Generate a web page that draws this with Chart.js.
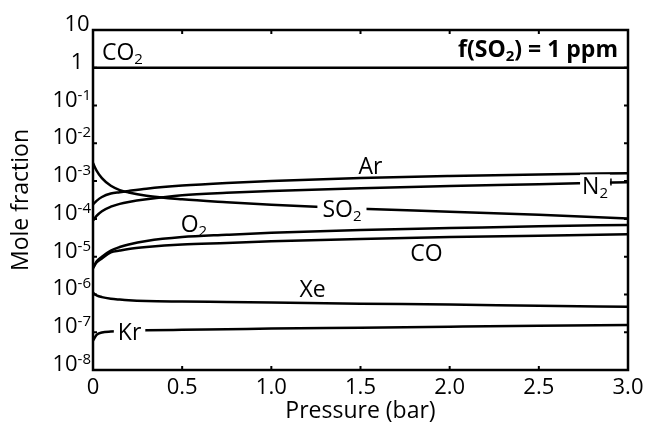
<!DOCTYPE html>
<html>
<head>
<meta charset="utf-8">
<script src="https://cdn.jsdelivr.net/npm/chart.js@4.4.1/dist/chart.umd.min.js"></script>
<style>
  html, body { margin: 0; padding: 0; background: #fff; }
  canvas { display: block; }
</style>
</head>
<body>
<canvas id="chart" width="651" height="432"></canvas>
<script>
// Pressure grid (bar)
const pressure = [0, 0.02, 0.05, 0.1, 0.15, 0.2, 0.3, 0.5, 0.75, 1.0, 1.5, 2.0, 2.5, 3.0];

// Mole fractions of each species along the pressure grid
const co2 = [0.998, 0.998, 0.998, 0.998, 0.998, 0.998, 0.998, 0.998, 0.998, 0.998, 0.998, 0.998, 0.998, 0.998];
const ar  = [2.4e-4, 3.0e-4, 3.8e-4, 4.7e-4, 5.1e-4, 5.5e-4, 6.3e-4, 7.6e-4, 8.9e-4, 1.0e-3, 1.2e-3, 1.36e-3, 1.5e-3, 1.62e-3];
const n2  = [9.0e-5, 1.2e-4, 1.6e-4, 2.1e-4, 2.5e-4, 2.8e-4, 3.3e-4, 4.2e-4, 4.9e-4, 5.5e-4, 6.5e-4, 7.4e-4, 8.3e-4, 9.4e-4];
const so2 = [3.0e-3, 1.9e-3, 1.2e-3, 7.5e-4, 5.8e-4, 5.0e-4, 4.1e-4, 3.3e-4, 2.75e-4, 2.35e-4, 1.85e-4, 1.55e-4, 1.28e-4, 1.03e-4];
const o2  = [5.0e-6, 7.5e-6, 1.0e-5, 1.45e-5, 1.8e-5, 2.1e-5, 2.6e-5, 3.3e-5, 3.8e-5, 4.3e-5, 5.1e-5, 5.7e-5, 6.4e-5, 6.9e-5];
const co  = [5.0e-6, 7.0e-6, 9.0e-6, 1.3e-5, 1.45e-5, 1.6e-5, 1.8e-5, 2.1e-5, 2.3e-5, 2.55e-5, 2.95e-5, 3.3e-5, 3.6e-5, 3.9e-5];
const xe  = [1.1e-6, 9.5e-7, 8.5e-7, 7.7e-7, 7.3e-7, 7.0e-7, 6.7e-7, 6.5e-7, 6.3e-7, 6.1e-7, 5.7e-7, 5.4e-7, 5.0e-7, 4.7e-7];
const kr  = [6.0e-8, 8.5e-8, 9.8e-8, 1.04e-7, 1.06e-7, 1.08e-7, 1.12e-7, 1.16e-7, 1.2e-7, 1.25e-7, 1.32e-7, 1.4e-7, 1.48e-7, 1.55e-7];

// Axis ticks
const xTicks = [0, 0.5, 1.0, 1.5, 2.0, 2.5, 3.0];
const yTickExponents = [1, 0, -1, -2, -3, -4, -5, -6, -7, -8];

const seriesList = [co2, ar, n2, so2, o2, co, xe, kr];

// In-plot annotations: text pieces (with subscripts), anchored in data units.
// "gap" marks labels that sit on their curve and interrupt it.
const annotations = [
  { parts: [{ t: 'CO' }, { t: '2', sub: true }], p: 0.05, v: 2.7, align: 'left' },
  { parts: [{ t: 'f(SO' }, { t: '2', sub: true }, { t: ') = 1 ppm' }], p: 2.944, v: 3.1, align: 'right', bold: true },
  { parts: [{ t: 'Ar' }], p: 1.556, v: 2.5e-3, align: 'center' },
  { parts: [{ t: 'N' }, { t: '2', sub: true }], p: 2.815, v: 7.6e-4, align: 'center', gap: 2, endBar: true },
  { parts: [{ t: 'SO' }, { t: '2', sub: true }], p: 1.396, v: 1.83e-4, align: 'center', gap: 5 },
  { parts: [{ t: 'O' }, { t: '2', sub: true }], p: 0.566, v: 7.5e-5, align: 'center' },
  { parts: [{ t: 'CO' }], p: 1.87, v: 1.29e-5, align: 'center' },
  { parts: [{ t: 'Xe' }], p: 1.231, v: 1.4e-6, align: 'center' },
  { parts: [{ t: 'Kr' }], p: 0.205, v: 1.05e-7, align: 'center', gap: 4 }
];

const FONT = "'Open Sans', 'DejaVu Sans', sans-serif";
const MAIN_SIZE = 23;
const SUB_SIZE = 15;

function richWidth(ctx, parts, bold) {
  let w = 0;
  for (const part of parts) {
    ctx.font = (bold ? 'bold ' : '') + (part.sub ? SUB_SIZE : MAIN_SIZE) + 'px ' + FONT;
    w += ctx.measureText(part.t).width;
  }
  return w;
}

function drawRich(ctx, parts, x, baseline, bold) {
  let cx = x;
  for (const part of parts) {
    ctx.font = (bold ? 'bold ' : '') + (part.sub ? SUB_SIZE : MAIN_SIZE) + 'px ' + FONT;
    ctx.fillText(part.t, cx, part.sub ? baseline + 4 : baseline);
    cx += ctx.measureText(part.t).width;
  }
}

const framePlugin = {
  id: 'frameAndNotes',
  afterDatasetsDraw(chart) {
    const ctx = chart.ctx;
    const { left, right, top, bottom } = chart.chartArea;
    const xs = chart.scales.x, ys = chart.scales.y;
    ctx.save();

    ctx.textBaseline = 'alphabetic';
    ctx.textAlign = 'left';
    for (const a of annotations) {
      const w = richWidth(ctx, a.parts, a.bold);
      const cx = xs.getPixelForValue(a.p);
      const cy = ys.getPixelForValue(a.v);
      const x0 = a.align === 'left' ? cx : a.align === 'right' ? cx - w : cx - w / 2;
      const capH = MAIN_SIZE * 0.714;
      const baseline = cy + capH / 2;
      if (a.gap) {
        // white backing so the label breaks its curve
        ctx.fillStyle = '#fff';
        ctx.fillRect(x0 - a.gap, cy - capH / 2 - 3, w + 2 * a.gap, capH + 9);
      }
      ctx.fillStyle = '#000';
      drawRich(ctx, a.parts, x0, baseline, a.bold);
      if (a.endBar) {
        ctx.strokeStyle = '#000';
        ctx.lineWidth = 1.5;
        const bx = x0 + w + a.gap + 1;
        ctx.beginPath();
        ctx.moveTo(bx, cy - 7);
        ctx.lineTo(bx, cy);
        ctx.stroke();
      }
    }

    // Inward tick marks on all four sides
    ctx.strokeStyle = '#000';
    ctx.lineWidth = 2;
    const tl = 4;
    ctx.beginPath();
    for (const t of xTicks) {
      const px = xs.getPixelForValue(t);
      ctx.moveTo(px, bottom); ctx.lineTo(px, bottom - tl);
      ctx.moveTo(px, top); ctx.lineTo(px, top + tl);
    }
    for (const e of yTickExponents) {
      const py = ys.getPixelForValue(Math.pow(10, e));
      ctx.moveTo(left, py); ctx.lineTo(left + tl, py);
      ctx.moveTo(right, py); ctx.lineTo(right - tl, py);
    }
    ctx.stroke();

    // Plot frame
    ctx.lineWidth = 2.5;
    ctx.strokeRect(left, top, right - left, bottom - top);
    ctx.restore();
  },
  afterDraw(chart) {
    // Power-of-ten labels on the y axis
    const ctx = chart.ctx;
    const ys = chart.scales.y;
    const left = chart.chartArea.left;
    ctx.save();
    ctx.fillStyle = '#000';
    ctx.textBaseline = 'alphabetic';
    for (const e of yTickExponents) {
      const py = ys.getPixelForValue(Math.pow(10, e)) + 1;
      ctx.font = MAIN_SIZE - 1 + 'px ' + FONT;
      if (e === 1 || e === 0) {
        ctx.textAlign = 'center';
        ctx.fillText(e === 1 ? '10' : '1', left - 16, py);
      } else {
        const sup = String(e);
        ctx.font = SUB_SIZE + 'px ' + FONT;
        const ws = ctx.measureText(sup).width;
        ctx.font = MAIN_SIZE - 1 + 'px ' + FONT;
        const wb = ctx.measureText('10').width;
        const x0 = left - 2 - ws - wb;
        ctx.textAlign = 'left';
        ctx.fillText('10', x0, py);
        ctx.font = SUB_SIZE + 'px ' + FONT;
        ctx.fillText(sup, x0 + wb, py - 7);
      }
    }
    ctx.restore();
  }
};

const datasets = seriesList.map(vals => ({
  data: pressure.map((p, i) => ({ x: p, y: vals[i] })),
  borderColor: '#000',
  borderWidth: 2.5,
  pointRadius: 0,
  fill: false,
  cubicInterpolationMode: 'monotone'
}));

new Chart(document.getElementById('chart'), {
  type: 'line',
  data: { datasets },
  options: {
    responsive: false,
    animation: false,
    devicePixelRatio: 1,
    layout: { padding: { top: 30, right: 23, left: 0, bottom: 0 } },
    plugins: { legend: { display: false }, tooltip: { enabled: false } },
    scales: {
      x: {
        type: 'linear',
        min: 0,
        max: 3,
        afterBuildTicks: s => { s.ticks = xTicks.map(v => ({ value: v })); },
        ticks: {
          color: '#000',
          padding: -3,
          maxRotation: 0,
          font: { family: FONT, size: MAIN_SIZE - 1 },
          callback: v => (v === 0 ? '0' : Number(v).toFixed(1))
        },
        grid: { display: false },
        border: { display: false },
        title: {
          display: true,
          text: 'Pressure (bar)',
          color: '#000',
          font: { family: FONT, size: MAIN_SIZE },
          padding: { top: 0, bottom: 7 }
        },
        afterFit: s => { s.height = 62; }
      },
      y: {
        type: 'logarithmic',
        min: 1e-8,
        max: 10,
        ticks: { display: false },
        grid: { display: false },
        border: { display: false },
        title: {
          display: true,
          text: 'Mole fraction',
          color: '#000',
          font: { family: FONT, size: MAIN_SIZE },
          padding: { top: 8, bottom: 0 }
        },
        afterFit: s => { s.width = 93; }
      }
    }
  },
  plugins: [framePlugin]
});
</script>
</body>
</html>
